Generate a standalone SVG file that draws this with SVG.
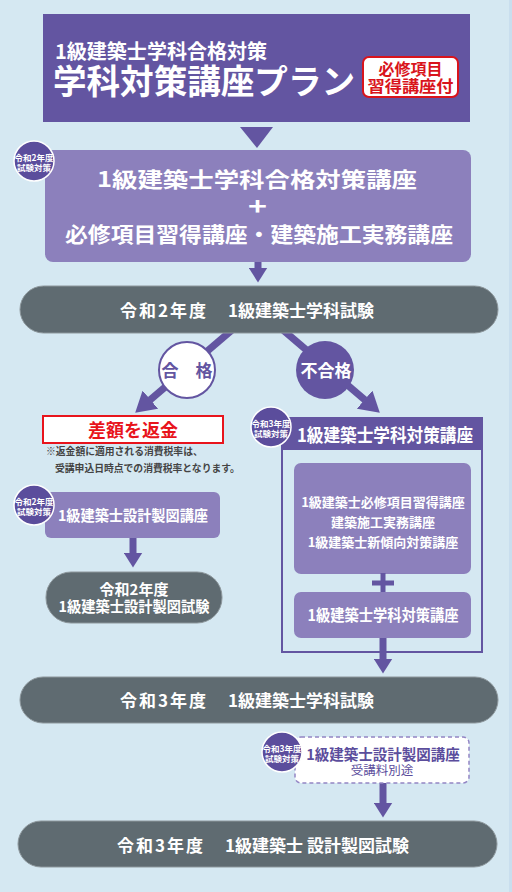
<svg xmlns="http://www.w3.org/2000/svg" width="512" height="892" viewBox="0 0 512 892">
<defs>
<style>
text{font-family:"Noto Sans CJK JP","Noto Sans",sans-serif;font-weight:bold;}
.w{fill:#ffffff;}
.dk{fill:#6355a1;}
.lt{fill:#8c80bc;}
.pill{fill:#5f6b71;stroke:#8d979c;stroke-width:1;}
.badge{fill:#5b4d9c;stroke:#ffffff;stroke-width:1.5;}
.bt{font-size:8.5px;fill:#ffffff;text-anchor:middle;}
.arr{stroke:#6355a1;stroke-width:7;fill:none;}
.c{text-anchor:middle;}
</style>
<marker id="ah" markerUnits="userSpaceOnUse" viewBox="0 0 15 19" markerWidth="15" markerHeight="19" refX="0.5" refY="9.5" orient="auto"><path d="M0,0 L15,9.5 L0,19 z" fill="#6355a1"/></marker>
<marker id="ahb" markerUnits="userSpaceOnUse" viewBox="0 0 20 24" markerWidth="20" markerHeight="24" refX="0.5" refY="12" orient="auto"><path d="M0,0 L20,12 L0,24 z" fill="#6355a1"/></marker>
</defs>
<rect x="0" y="0" width="512" height="892" fill="#d5e8f2"/>
<rect x="509" y="0" width="3" height="892" fill="#c9deee"/>

<g id="connectors">
<polygon points="240,127 273,127 257,148" fill="#6355a1"/>
<line class="arr" x1="258" y1="260" x2="258" y2="268" marker-end="url(#ah)"/>
<line class="arr" x1="232" y1="330" x2="150" y2="400" marker-end="url(#ahb)"/>
<line class="arr" x1="283" y1="330" x2="365" y2="400" marker-end="url(#ahb)"/>
<line class="arr" x1="133" y1="536" x2="133" y2="553" marker-end="url(#ah)"/>
<line class="arr" x1="383" y1="636" x2="383" y2="659" marker-end="url(#ah)"/>
<line class="arr" x1="383" y1="782" x2="383" y2="803" marker-end="url(#ah)"/>
</g>

<g id="title">
<rect x="43" y="14" width="427" height="108" class="dk"/>
<text class="w"><tspan x="55" y="59" font-size="20" textLength="212" lengthAdjust="spacingAndGlyphs">1級建築士学科合格対策</tspan><tspan x="53" y="94" font-size="34" textLength="302" lengthAdjust="spacingAndGlyphs">学科対策講座プラン</tspan></text>
<g id="title-badge">
<rect x="363" y="57" width="95" height="40" rx="6" fill="#ffffff" stroke="#d9141c" stroke-width="2"/>
<text font-size="16" fill="#d9141c" class="c"><tspan x="410.5" y="75">必修項目</tspan><tspan x="410.5" y="92" textLength="86" lengthAdjust="spacingAndGlyphs">習得講座付</tspan></text>
</g>
</g>

<g id="course-2020">
<rect x="45" y="150" width="426" height="112" rx="8" class="lt"/>
<text class="w c" font-size="21"><tspan x="257" y="187" textLength="320" lengthAdjust="spacingAndGlyphs">1級建築士学科合格対策講座</tspan><tspan x="257.5" y="215" font-size="24" textLength="19" lengthAdjust="spacingAndGlyphs">+</tspan><tspan x="259" y="242" textLength="388" lengthAdjust="spacingAndGlyphs">必修項目習得講座・建築施工実務講座</tspan></text>
</g>
<g id="badge-1">
<circle cx="34" cy="161" r="20" class="badge"/>
<text class="bt"><tspan x="34" y="161">令和2年度</tspan><tspan x="34" y="171">試験対策</tspan></text>
</g>

<g id="exam-2020-gakka">
<rect x="20" y="286" width="478" height="47" rx="23.5" class="pill"/>
<text y="317" font-size="17" class="w"><tspan x="120" letter-spacing="2">令和2年度</tspan><tspan x="228">1級建築士学科試験</tspan></text>
</g>

<g id="pass">
<circle cx="187" cy="370" r="28" fill="#ffffff" stroke="#6355a1" stroke-width="2"/>
<text x="187" y="377" font-size="17" fill="#6355a1" class="c" font-weight="normal">合　格</text>
</g>
<g id="fail">
<circle cx="325" cy="370" r="29" class="dk"/>
<text x="326" y="377" font-size="17" class="w c" font-weight="normal">不合格</text>
</g>

<g id="refund">
<rect x="43" y="416" width="180" height="27" fill="#ffffff" stroke="#e8141c" stroke-width="2"/>
<text x="133" y="437" font-size="18" fill="#e8141c" class="c">差額を返金</text>
<text font-size="9.8" fill="#444" font-weight="normal"><tspan x="46" y="455">※返金額に適用される消費税率は、</tspan><tspan x="55" y="472">受講申込日時点での消費税率となります。</tspan></text>
</g>

<g id="course-seizu-2020">
<rect x="45" y="492" width="175" height="46" rx="6" class="lt"/>
<text x="58" y="521" font-size="15" class="w" textLength="150" lengthAdjust="spacingAndGlyphs">1級建築士設計製図講座</text>
</g>
<g id="badge-2">
<circle cx="34" cy="505" r="20" class="badge"/>
<text class="bt"><tspan x="34" y="505">令和2年度</tspan><tspan x="34" y="515">試験対策</tspan></text>
</g>

<g id="exam-2020-seizu">
<rect x="46" y="572" width="176" height="51" rx="25" class="pill"/>
<text font-size="15" class="w c"><tspan x="134" y="595">令和2年度</tspan><tspan x="134" y="612" textLength="151" lengthAdjust="spacingAndGlyphs">1級建築士設計製図試験</tspan></text>
</g>

<g id="course-2021">
<rect x="282" y="418" width="200" height="234" fill="none" stroke="#6355a1" stroke-width="2"/>
<rect x="281" y="417" width="202" height="33" class="dk"/>
<text x="385" y="442" font-size="18.5" class="w c" textLength="176" lengthAdjust="spacingAndGlyphs">1級建築士学科対策講座</text>
<rect x="294" y="463" width="177" height="111" rx="7" class="lt"/>
<text font-size="13" class="w c"><tspan x="383" y="507">1級建築士必修項目習得講座</tspan><tspan x="383" y="527">建築施工実務講座</tspan><tspan x="383" y="547">1級建築士新傾向対策講座</tspan></text>
<path d="M372,583 H394 M383,573 V593" stroke="#6355a1" stroke-width="5" fill="none"/>
<rect x="294" y="592" width="177" height="46" rx="7" class="lt"/>
<text x="383" y="621" font-size="15.5" class="w c" textLength="151" lengthAdjust="spacingAndGlyphs">1級建築士学科対策講座</text>
</g>
<g id="badge-3">
<circle cx="271" cy="427" r="20" class="badge"/>
<text class="bt"><tspan x="271" y="427">令和3年度</tspan><tspan x="271" y="437">試験対策</tspan></text>
</g>

<g id="exam-2021-gakka">
<rect x="20" y="677" width="478" height="46" rx="23" class="pill"/>
<text y="707" font-size="17" class="w"><tspan x="120" letter-spacing="2">令和3年度</tspan><tspan x="228">1級建築士学科試験</tspan></text>
</g>

<g id="course-seizu-2021">
<rect x="295" y="737" width="174" height="46" rx="6" fill="#ffffff" stroke="#9385c4" stroke-width="1.5" stroke-dasharray="4,3"/>
<text fill="#5b4d9c" class="c"><tspan x="383" y="760" font-size="14.5">1級建築士設計製図講座</tspan><tspan x="382" y="775" font-size="12.5" font-weight="normal">受講料別途</tspan></text>
</g>
<g id="badge-4">
<circle cx="282" cy="752" r="20" class="badge"/>
<text class="bt"><tspan x="282" y="752">令和3年度</tspan><tspan x="282" y="762">試験対策</tspan></text>
</g>

<g id="exam-2021-seizu">
<rect x="18" y="821" width="479" height="46" rx="23" class="pill"/>
<text y="852" font-size="17" class="w"><tspan x="117" letter-spacing="2">令和3年度</tspan><tspan x="225">1級建築士 設計製図試験</tspan></text>
</g>
</svg>
